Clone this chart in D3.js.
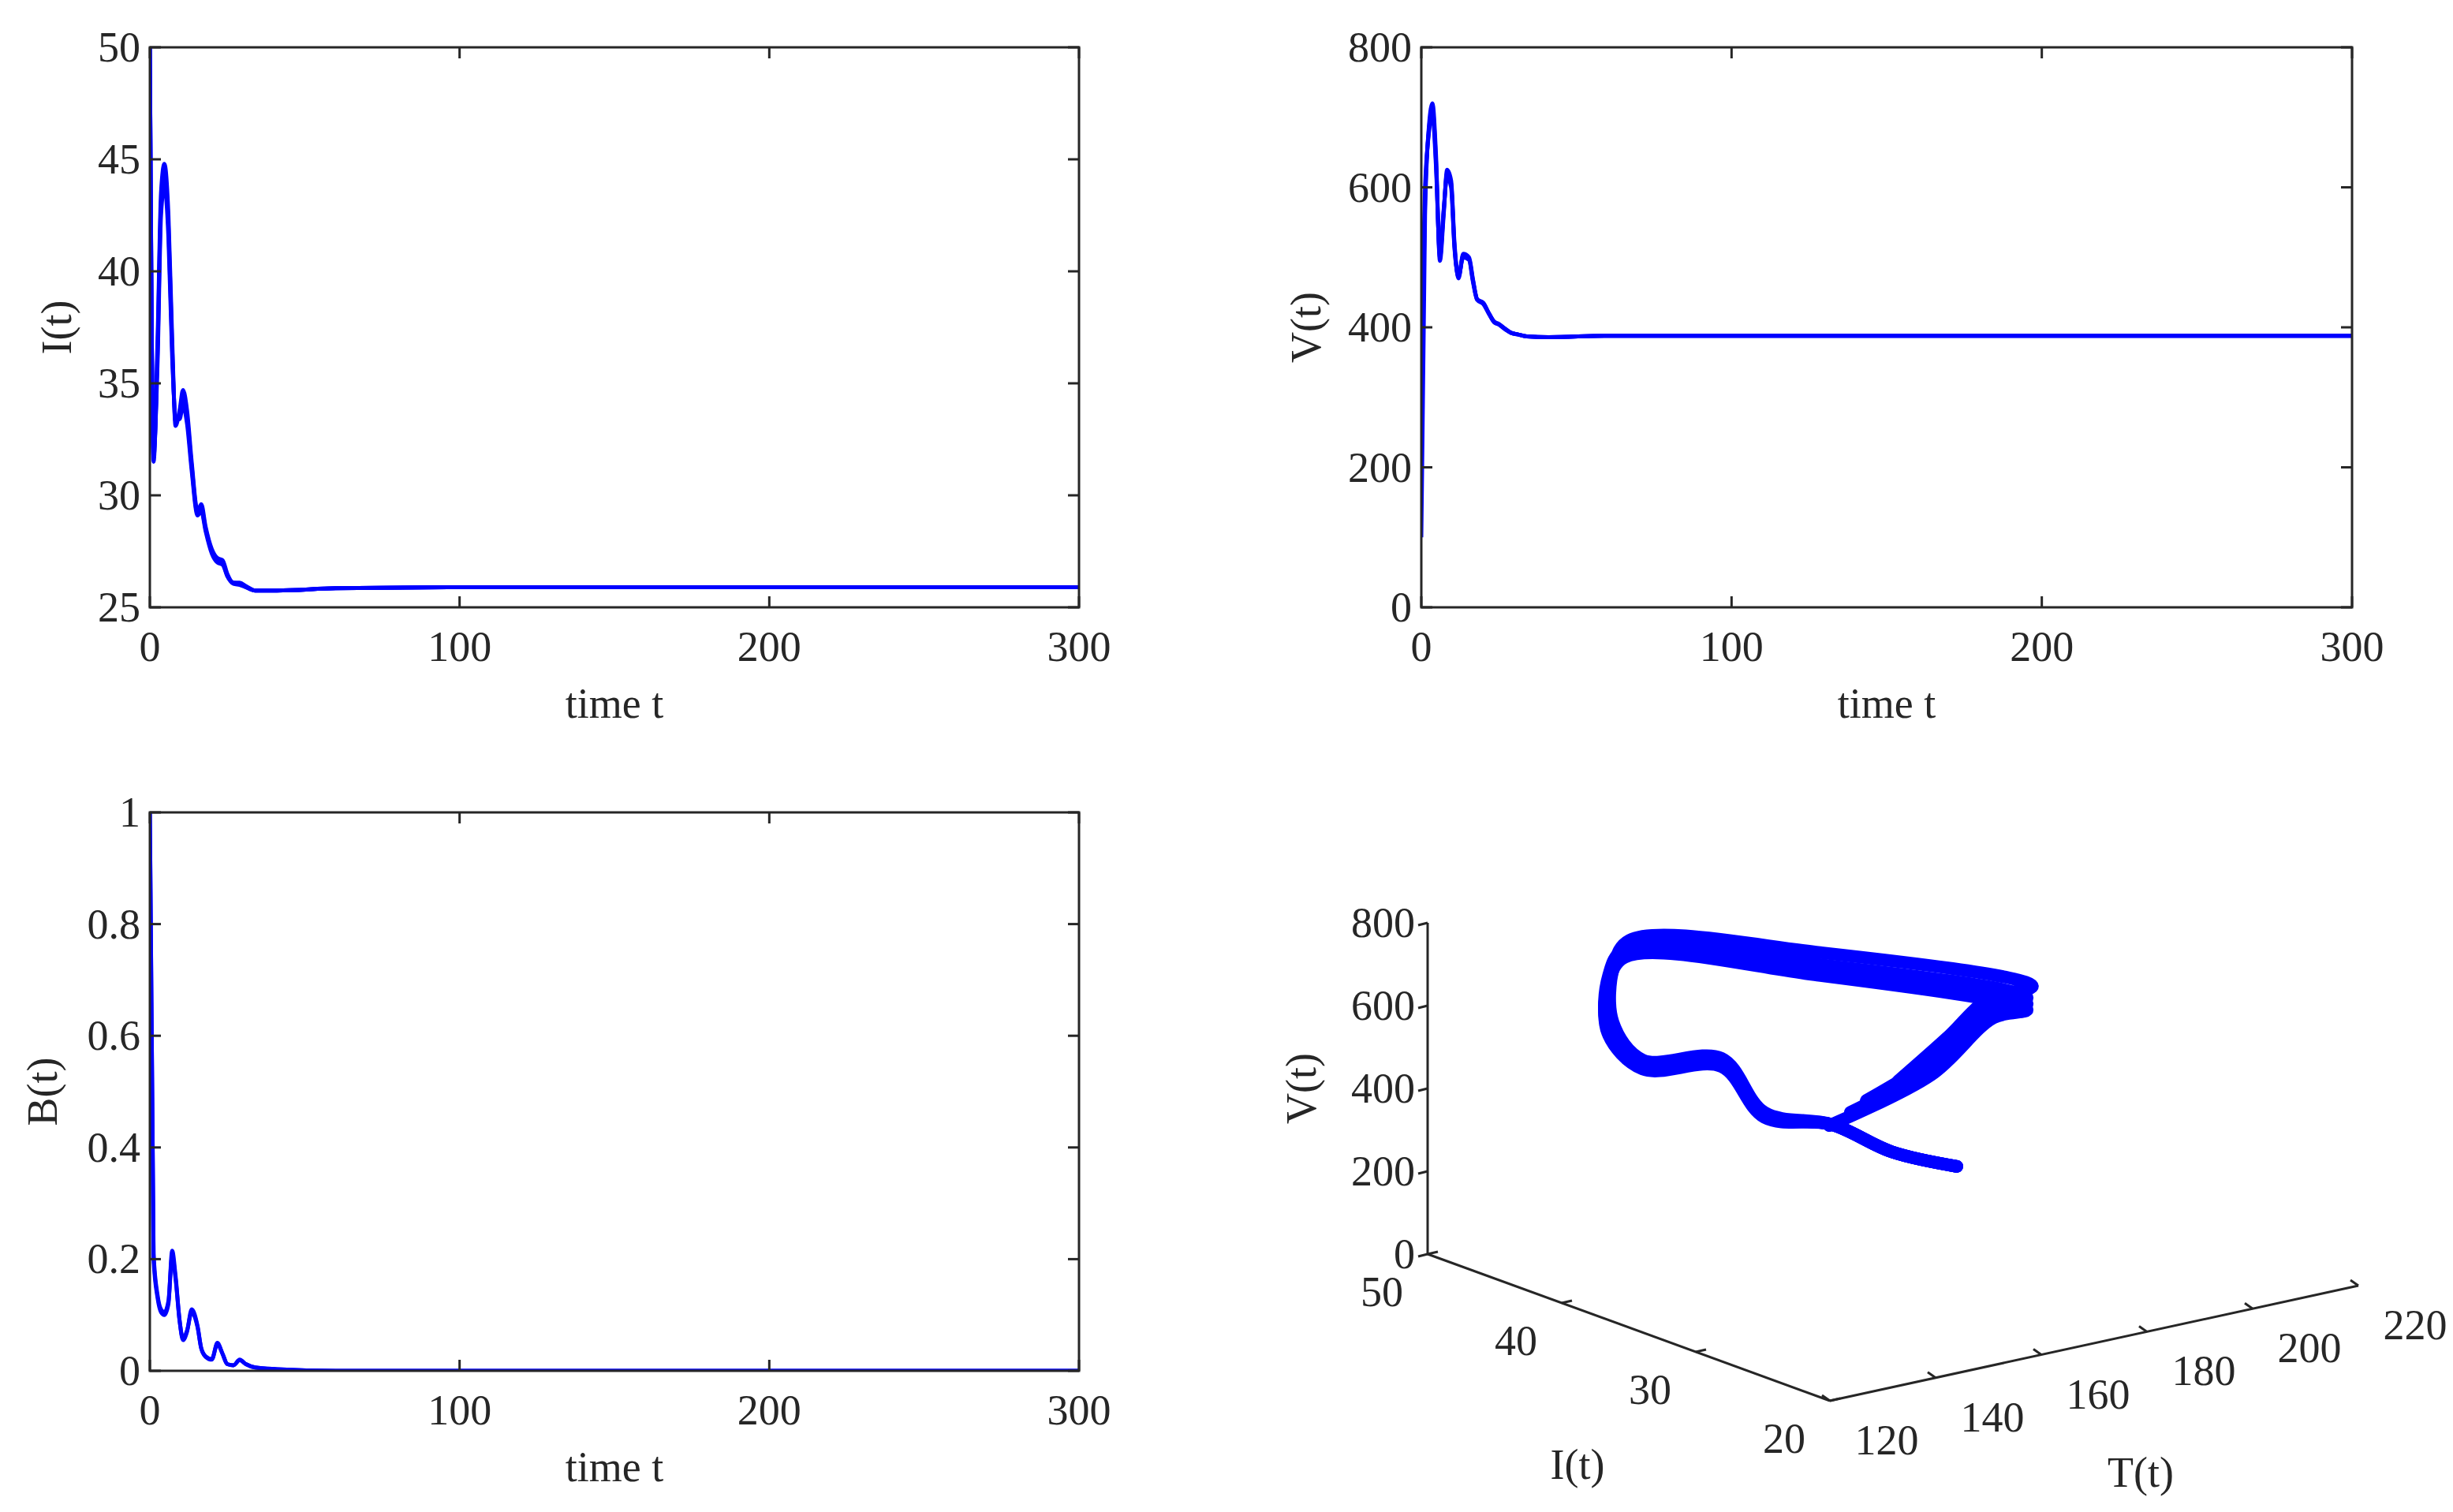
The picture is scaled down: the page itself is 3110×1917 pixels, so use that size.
<!DOCTYPE html>
<html>
<head>
<meta charset="UTF-8">
<script src="https://d3js.org/d3.v7.min.js"></script>
<style>
  body { margin: 0; background: #fff; }
  text { font-family: "Liberation Serif", "DejaVu Serif", serif; fill: #262626; }
</style>
</head>
<body>
<svg id="fig" width="3110" height="1917"></svg>
<script>
// time samples shared by the time series
const tSamples = [0, 1.2, 2.5, 3.6, 4.7, 6, 7.2, 8.3, 9.6, 10.7, 12, 13.5, 15.4, 16.6, 18, 20, 21.8, 23.5, 25, 27, 29, 31, 34, 41, 60, 100, 200, 300];

// I(t), three runs
const I1 = [50, 31.5, 37, 43.5, 44.8, 42.5, 37, 33.1, 33.8, 34.7, 33.8, 31.5, 29.3, 29.6, 28.6, 27.6, 27.2, 27.1, 26.5, 26.1, 26.1, 25.95, 25.75, 25.75, 25.85, 25.9, 25.9, 25.9];
const I2 = [50, 31.7, 36.5, 43.0, 44.3, 42.0, 36.6, 33.3, 33.6, 34.3, 33.5, 31.3, 29.2, 29.4, 28.5, 27.5, 27.1, 27.0, 26.4, 26.1, 26.05, 25.9, 25.75, 25.75, 25.85, 25.9, 25.9, 25.9];
const I3 = [50, 32.0, 36.0, 42.5, 43.8, 41.5, 36.2, 33.5, 33.4, 34.0, 33.2, 31.1, 29.1, 29.3, 28.4, 27.4, 27.0, 26.9, 26.4, 26.05, 26.0, 25.9, 25.75, 25.75, 25.85, 25.9, 25.9, 25.9];

// V(t), three runs
const V1 = [100, 560, 690, 720, 650, 495, 560, 625, 610, 520, 470, 505, 500, 470, 440, 435, 420, 408, 405, 398, 392, 390, 387, 386, 388, 388, 388, 388];
const V2 = [300, 580, 685, 712, 640, 500, 565, 620, 605, 515, 472, 503, 498, 468, 440, 434, 420, 408, 404, 398, 392, 390, 387, 386, 388, 388, 388, 388];
const V3 = [400, 600, 680, 705, 632, 505, 568, 615, 600, 512, 474, 500, 496, 466, 439, 433, 419, 407, 404, 397, 392, 390, 387, 386, 388, 388, 388, 388];

// B(t), two runs
const B1 = [1, 0.2, 0.13, 0.105, 0.1, 0.12, 0.215, 0.17, 0.09, 0.055, 0.07, 0.11, 0.08, 0.04, 0.025, 0.02, 0.05, 0.03, 0.012, 0.01, 0.02, 0.012, 0.006, 0.003, 0.0, 0, 0, 0];
const B2 = [1, 0.21, 0.135, 0.11, 0.105, 0.125, 0.205, 0.165, 0.09, 0.058, 0.072, 0.105, 0.078, 0.04, 0.026, 0.021, 0.048, 0.03, 0.012, 0.01, 0.019, 0.012, 0.006, 0.003, 0.0, 0, 0, 0];

// 3D trajectories (T, I, V) in order of time
const T3a = [196, 190, 189, 203, 178, 142, 139, 149, 148, 135, 133, 138, 147, 159];
const I3a = [50, 40, 35, 38, 44, 44, 44, 48, 45, 34, 30, 27, 26, 25.9];
const V3a = [99, 357, 556, 501, 584, 726, 666, 477, 428, 600, 530, 535, 455, 388];
const T3b = [203, 194, 191, 203, 178, 142, 139, 149, 148, 135, 133, 138, 147, 159];
const I3b = [50, 41, 36, 38, 44, 44, 44, 48, 45, 34, 30, 27, 26, 25.9];
const V3b = [140, 380, 560, 530, 610, 745, 690, 490, 440, 610, 536, 535, 455, 388];
const T3c = [209, 198, 193, 204, 179, 143, 140, 150, 148, 135, 133, 138, 147, 159];
const I3c = [50, 42, 37, 38, 44, 44, 44, 48, 45, 34, 30, 27, 26, 25.9];
const V3c = [170, 400, 565, 555, 635, 765, 710, 500, 450, 620, 542, 535, 455, 388];
const T3d = [200, 192, 190, 203, 178, 142, 139, 149, 148, 135, 133, 138, 147, 159];
const I3d = [50, 40.5, 35.5, 38, 44, 44, 44, 48, 45, 34, 30, 27, 26, 25.9];
const V3d = [120, 368, 558, 515, 597, 735, 678, 484, 434, 605, 533, 535, 455, 388];

const tTicks = [0, 100, 200, 300];
const ITicks = [25, 30, 35, 40, 45, 50];
const VTicks = [0, 200, 400, 600, 800];
const BTicks = [0, 0.2, 0.4, 0.6, 0.8, 1];
const Iax3 = [20, 30, 40, 50];
const Tax3 = [120, 140, 160, 180, 200, 220];

const svg = d3.select("#fig");
const blue = "#0000ff", ink = "#262626", fs = 54, tk = 14;

function panel(x0, y0, w, h, ydom, yticks, ylabel, runs) {
  const g = svg.append("g").attr("transform", `translate(${x0},${y0})`);
  const x = d3.scaleLinear().domain([0, 300]).range([0, w]);
  const y = d3.scaleLinear().domain(ydom).range([h, 0]);
  const line = d3.line().x((d, i) => x(tSamples[i])).y(d => y(d)).curve(d3.curveMonotoneX);
  const clip = "c" + x0 + "_" + y0;
  g.append("clipPath").attr("id", clip).append("rect").attr("width", w).attr("height", h);
  runs.forEach(r => g.append("path").attr("d", line(r)).attr("fill", "none")
    .attr("stroke", blue).attr("stroke-width", 5).attr("clip-path", `url(#${clip})`));
  g.append("rect").attr("width", w).attr("height", h).attr("fill", "none").attr("stroke", ink).attr("stroke-width", 3);
  tTicks.forEach(t => {
    g.append("line").attr("x1", x(t)).attr("x2", x(t)).attr("y1", h).attr("y2", h - tk).attr("stroke", ink).attr("stroke-width", 3);
    g.append("line").attr("x1", x(t)).attr("x2", x(t)).attr("y1", 0).attr("y2", tk).attr("stroke", ink).attr("stroke-width", 3);
    g.append("text").attr("x", x(t)).attr("y", h + 68).attr("text-anchor", "middle").attr("font-size", fs).text(t);
  });
  yticks.forEach(v => {
    g.append("line").attr("x1", 0).attr("x2", tk).attr("y1", y(v)).attr("y2", y(v)).attr("stroke", ink).attr("stroke-width", 3);
    g.append("line").attr("x1", w).attr("x2", w - tk).attr("y1", y(v)).attr("y2", y(v)).attr("stroke", ink).attr("stroke-width", 3);
    g.append("text").attr("x", -12).attr("y", y(v) + 18).attr("text-anchor", "end").attr("font-size", fs).text(v);
  });
  g.append("text").attr("x", w / 2).attr("y", h + 140).attr("text-anchor", "middle").attr("font-size", fs).text("time t");
  g.append("text").attr("transform", `translate(${-ylabel[1]},${h / 2}) rotate(-90)`)
    .attr("text-anchor", "middle").attr("font-size", fs).text(ylabel[0]);
}

panel(190, 60, 1178, 710, [25, 50], ITicks, ["I(t)", 100], [I1, I2, I3]);
panel(1802, 60, 1180, 710, [0, 800], VTicks, ["V(t)", 128], [V1, V2, V3]);
panel(190, 1030, 1178, 708, [0, 1], BTicks, ["B(t)", 118], [B1, B2]);

// 3D panel: oblique projection built from linear scales
const O = [1810, 1590];
const sI = d3.scaleLinear().domain([50, 20]).range([0, 1]);
const sT = d3.scaleLinear().domain([120, 220]).range([0, 1]);
const sV = d3.scaleLinear().domain([0, 800]).range([0, 1]);
const iv = [510, 186], tv = [670, -146], vv = [0, -420];
function proj(T, I, V) {
  const a = sI(I), b = sT(T), c = sV(V);
  return [O[0] + a * iv[0] + b * tv[0] + c * vv[0], O[1] + a * iv[1] + b * tv[1] + c * vv[1]];
}
const g3 = svg.append("g");
const ax = (p, q) => g3.append("line").attr("x1", p[0]).attr("y1", p[1]).attr("x2", q[0]).attr("y2", q[1]).attr("stroke", ink).attr("stroke-width", 3);
ax(proj(120, 50, 0), proj(120, 50, 800));
ax(proj(120, 50, 0), proj(120, 20, 0));
ax(proj(120, 20, 0), proj(220, 20, 0));
VTicks.forEach(v => {
  const p = proj(120, 50, v);
  ax(p, [p[0] - 12, p[1] + 3]);
  g3.append("text").attr("x", p[0] - 16).attr("y", p[1] + 18).attr("text-anchor", "end").attr("font-size", fs).text(v);
});
Iax3.forEach(v => {
  const p = proj(120, v, 0);
  ax(p, [p[0] + 13, p[1] - 3]);
  g3.append("text").attr("x", p[0] - 58).attr("y", p[1] + 66).attr("text-anchor", "middle").attr("font-size", fs).text(v);
});
Tax3.forEach(v => {
  const p = proj(v, 20, 0);
  ax(p, [p[0] - 10, p[1] - 7]);
  g3.append("text").attr("x", p[0] + 72).attr("y", p[1] + 68).attr("text-anchor", "middle").attr("font-size", fs).text(v);
});
g3.append("text").attr("transform", "translate(1668,1380) rotate(-90)").attr("text-anchor", "middle").attr("font-size", fs).text("V(t)");
g3.append("text").attr("x", 2000).attr("y", 1875).attr("text-anchor", "middle").attr("font-size", fs).text("I(t)");
g3.append("text").attr("x", 2714).attr("y", 1885).attr("text-anchor", "middle").attr("font-size", fs).text("T(t)");

const line3 = d3.line().curve(d3.curveCatmullRom);
[[T3a, I3a, V3a], [T3d, I3d, V3d], [T3b, I3b, V3b], [T3c, I3c, V3c]].forEach(([T, I, V]) => {
  const pts = T.map((t, i) => proj(t, I[i], V[i]));
  g3.append("path").attr("d", line3(pts)).attr("fill", "none").attr("stroke", blue)
    .attr("stroke-width", 16).attr("stroke-linecap", "round").attr("stroke-linejoin", "round");
});
</script>
</body>
</html>
